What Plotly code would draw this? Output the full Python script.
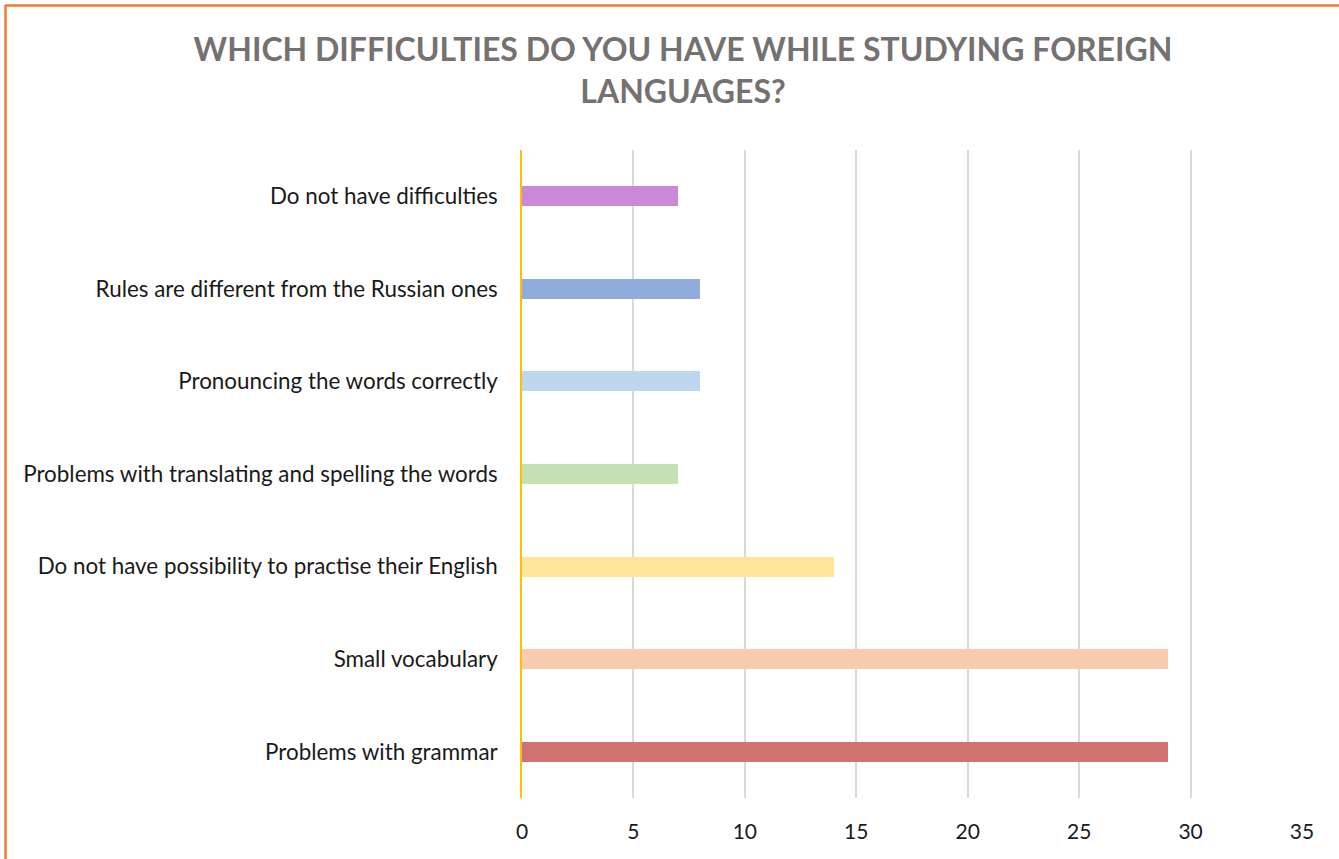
import plotly.graph_objects as go

categories = [
    "Problems with grammar",
    "Small vocabulary",
    "Do not have possibility to practise their English",
    "Problems with translating and spelling the words",
    "Pronouncing the words correctly",
    "Rules are different from the Russian ones",
    "Do not have difficulties",
]
values = [29, 29, 14, 7, 8, 8, 7]
colors = ["#D17373", "#F7CBAD", "#FFE599", "#C5E0B3", "#BDD7EE", "#8FACDB", "#C989D6"]
x_ticks = [0, 5, 10, 15, 20, 25, 30, 35]

W, H = 1339, 859
ML, MR, MT, MB = 522, 37, 150, 61
pw, ph = W - ML - MR, H - MT - MB

def px_to_paper_x(px):
    return (px - ML) / pw

def py_to_paper_y(py):
    return (H - MB - py) / ph

fig = go.Figure()
fig.add_trace(go.Bar(
    y=categories, x=values, orientation="h",
    marker=dict(color=colors, line=dict(width=0)),
    width=0.216, showlegend=False,
))

border = "#ED7D31"
fig.add_shape(type="line", xref="paper", yref="paper",
              x0=px_to_paper_x(5.5), x1=px_to_paper_x(W + 5),
              y0=py_to_paper_y(5.5), y1=py_to_paper_y(5.5),
              line=dict(color=border, width=2.5), layer="above")
fig.add_shape(type="line", xref="paper", yref="paper",
              x0=px_to_paper_x(5.5), x1=px_to_paper_x(5.5),
              y0=py_to_paper_y(4.5), y1=py_to_paper_y(H + 5),
              line=dict(color=border, width=2.5), layer="above")

fig.update_layout(
    width=W, height=H,
    margin=dict(l=ML, r=MR, t=MT, b=MB, pad=0),
    paper_bgcolor="white", plot_bgcolor="white",
    title=dict(
        text="WHICH DIFFICULTIES DO YOU HAVE WHILE STUDYING FOREIGN<br>LANGUAGES?",
        x=683 / W, xanchor="center", y=1 - 61 / H, yanchor="top",
        font=dict(family="Lato", size=32, color="#767171", weight="bold"),
    ),
    font=dict(family="Lato", size=22, color="#1a1a1a"),
    xaxis=dict(
        range=[0, 35], tickvals=x_ticks, showgrid=True, gridcolor="#D9D9D9",
        gridwidth=1.5, zeroline=False, showline=False, ticks="",
        ticklabelstandoff=19, tickfont=dict(size=21, color="#1a1a1a"),
    ),
    yaxis=dict(
        categoryorder="array", categoryarray=categories,
        showgrid=False, showline=True, linecolor="#FFC000", linewidth=1.5,
        ticks="", ticklabelstandoff=18, tickfont=dict(size=22.4, color="#1a1a1a"),
    ),
    bargap=0,
)

fig.write_html("out.html", config={"displayModeBar": False},
               post_script="document.body.style.margin='0';")
